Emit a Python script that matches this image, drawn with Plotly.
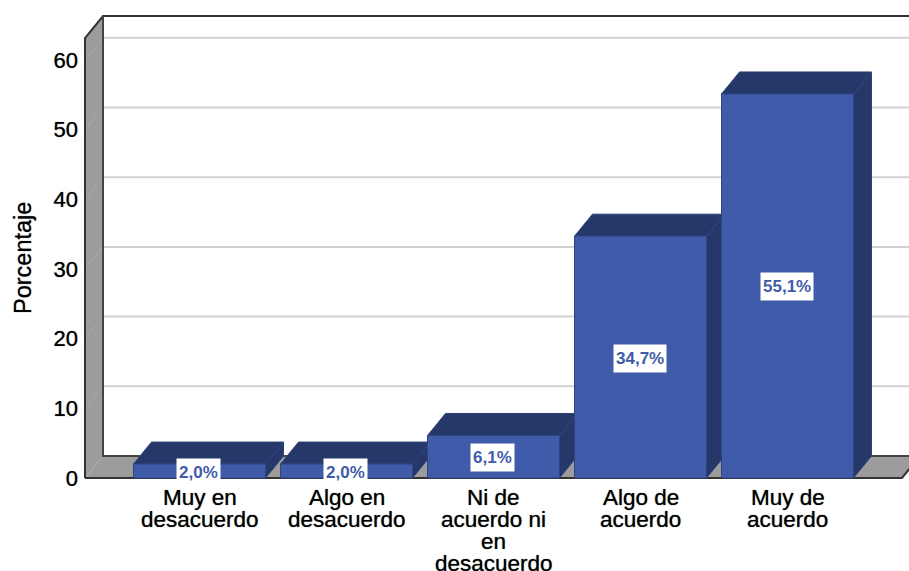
import plotly.graph_objects as go

categories = ["Muy en<br>desacuerdo", "Algo en<br>desacuerdo", "Ni de<br>acuerdo ni<br>en<br>desacuerdo",
              "Algo de<br>acuerdo", "Muy de<br>acuerdo"]
values = [2.0, 2.0, 6.1, 34.7, 55.1]
value_labels = ["2,0%", "2,0%", "6,1%", "34,7%", "55,1%"]
y_ticks = [0, 10, 20, 30, 40, 50, 60]
y_title = "Porcentaje"

FRONT, DARK, WALL, GRID, FRAME = "#3F5BA9", "#26376A", "#9C9C9C", "#D2D2D2", "#333333"
W, H = 909, 571
PX_CAT, PX_UNIT = 147.0, 6.97
X0_PX, Y0_PX = 199.5, 478.0
L, T, BOTTOM = 80, 10, 482
xr = [(L - X0_PX) / PX_CAT, (W - X0_PX) / PX_CAT]
yr = [(Y0_PX - BOTTOM) / PX_UNIT, (Y0_PX - T) / PX_UNIT]
DX, DY = 18.0 / PX_CAT, 22.0 / PX_UNIT
BW = 132.0 / PX_CAT
WALL_L = (85 - X0_PX) / PX_CAT
FLOOR_R = (902 - X0_PX) / PX_CAT
TOP_V = (478 - 38) / PX_UNIT
BLUR = "0 0 1px rgba(0,0,0,0.7)"

fig = go.Figure()

def poly(xs, ys, fill, line=None, width=0):
    fig.add_trace(go.Scatter(x=xs, y=ys, mode="lines", fill="toself", fillcolor=fill,
                             line=dict(color=line or fill, width=width), hoverinfo="skip", showlegend=False))

def seg(xs, ys, color, width):
    fig.add_trace(go.Scatter(x=xs, y=ys, mode="lines", line=dict(color=color, width=width),
                             hoverinfo="skip", showlegend=False))

# walls and floor
poly([WALL_L, WALL_L + DX, WALL_L + DX, WALL_L, WALL_L], [0, DY, TOP_V + DY, TOP_V, 0], WALL)
poly([WALL_L, WALL_L + DX, FLOOR_R + DX, FLOOR_R, WALL_L], [0, DY, DY, 0, 0], WALL)

# gridlines on the back wall and left wall
for t in y_ticks[1:]:
    seg([WALL_L + DX, xr[1]], [t + DY, t + DY], GRID, 2)
    seg([WALL_L, WALL_L + DX], [t, t + DY], "#ABABAB", 1)
seg([WALL_L, WALL_L + DX], [0, DY], "#ABABAB", 1)

# frame
seg([WALL_L, WALL_L, WALL_L + DX, xr[1]], [0, TOP_V, TOP_V + DY, TOP_V + DY], FRAME, 2)
seg([WALL_L + DX, WALL_L + DX, xr[1]], [TOP_V + DY, DY, DY], "#444444", 2)
seg([WALL_L, FLOOR_R, FLOOR_R + DX], [0, 0, DY], FRAME, 2)

# depth faces of the bars
for i, v in enumerate(values):
    a, b = i - BW / 2, i + BW / 2
    poly([b, b + DX, b + DX, b, b], [0, DY, v + DY, v, 0], DARK, "#2E4178", 1)
    poly([a, a + DX, b + DX, b, a], [v, v + DY, v + DY, v, v], DARK, "#2E4178", 1)

# front faces, on an overlaid pair of axes so that they sit above the depth faces
fig.add_trace(go.Bar(x=list(range(len(values))), y=values, width=BW, xaxis="x2", yaxis="y2",
                     marker=dict(color=FRONT, line=dict(color="#2F4580", width=1)),
                     hoverinfo="skip", showlegend=False))

ann = []
for i, (v, s) in enumerate(zip(values, value_labels)):
    ann.append(dict(x=i - 0.005, y=v / 2, xref="x", yref="y", yshift=-1, text=f"<b>{s}</b>", showarrow=False,
                    bgcolor="white", borderpad=2, height=23,
                    font=dict(family="Liberation Sans", size=17, color=FRONT)))
LINE_H = 22.0
for i, c in enumerate(categories):
    for k, line in enumerate(c.split("<br>")):
        ann.append(dict(x=i, y=0, xref="x", yref="y", text=line, showarrow=False, yanchor="middle",
                        yshift=-(19 + k * LINE_H),
                        font=dict(family="Liberation Sans", size=22.5, color="#000000", shadow=BLUR)))
ann.append(dict(x=(23 - L) / (W - L), y=(BOTTOM - 258) / (BOTTOM - T), xref="paper", yref="paper",
                xanchor="center", yanchor="middle", text=y_title, textangle=-90, showarrow=False,
                font=dict(family="Liberation Sans", size=23.5, color="#000000", shadow=BLUR)))

fig.update_layout(
    width=W, height=H, margin=dict(l=L, r=0, t=T, b=H - BOTTOM),
    paper_bgcolor="white", plot_bgcolor="white", showlegend=False, annotations=ann,
    xaxis=dict(range=xr, showgrid=False, zeroline=False, showticklabels=False, ticks=""),
    yaxis=dict(range=yr, showgrid=False, zeroline=False, tickvals=y_ticks, ticks="", ticklabelstandoff=1,
               tickfont=dict(family="Liberation Sans", size=22, color="#000000", shadow=BLUR)),
    xaxis2=dict(range=xr, overlaying="x", visible=False),
    yaxis2=dict(range=yr, overlaying="y", visible=False),
)
fig.write_html("out.html", config=dict(displayModeBar=False), post_script="document.body.style.margin='0';")
